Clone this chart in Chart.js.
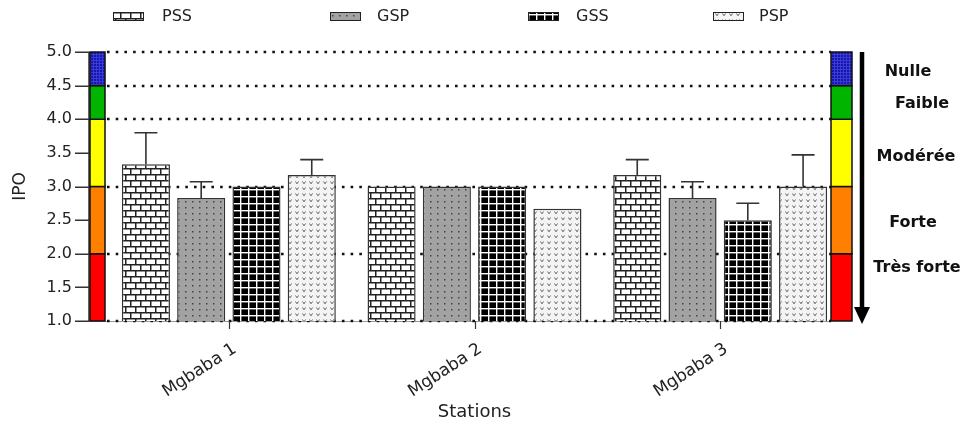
<!DOCTYPE html>
<html><head><meta charset="utf-8">
<script src="https://cdn.jsdelivr.net/npm/chart.js@4.4.0/dist/chart.umd.min.js"></script>
<style>html,body{margin:0;padding:0;background:#fff;}#wrap{width:965px;height:428px;}</style>
</head><body><div id="wrap"><canvas id="c" width="965" height="428"></canvas></div>
<script>
// ---- data ----
const categories = ['Mgbaba 1', 'Mgbaba 2', 'Mgbaba 3'];
const seriesNames = ['PSS', 'GSP', 'GSS', 'PSP'];
const pssValues = [3.33, 3.0, 3.17];
const gspValues = [2.83, 3.0, 2.83];
const gssValues = [3.0, 3.0, 2.5];
const pspValues = [3.17, 2.67, 3.0];
const pssErrors = [0.47, 0, 0.23];
const gspErrors = [0.24, 0, 0.24];
const gssErrors = [0, 0, 0.25];
const pspErrors = [0.23, 0, 0.47];
const yTickValues = [1.0, 1.5, 2.0, 2.5, 3.0, 3.5, 4.0, 4.5, 5.0];
const referenceLevels = [1.0, 2.0, 3.0, 4.0, 4.5, 5.0];
const classBounds = [1.0, 2.0, 3.0, 4.0, 4.5, 5.0];
const classNames = ['Très forte', 'Forte', 'Modérée', 'Faible', 'Nulle'];
const yAxisTitle = 'IPO';
const xAxisTitle = 'Stations';

// ---- patterns ----
const canvas = document.getElementById('c');
const mainCtx = canvas.getContext('2d');
function makePattern(w, h, draw) {
  const c = document.createElement('canvas'); c.width = w; c.height = h;
  const g = c.getContext('2d'); draw(g, w, h);
  return mainCtx.createPattern(c, 'repeat');
}
const brick = makePattern(20, 12, (g) => {
  g.fillStyle = '#fff'; g.fillRect(0, 0, 20, 12);
  g.fillStyle = '#222';
  g.fillRect(0, 0, 20, 1.5); g.fillRect(0, 6, 20, 1.5);
  g.fillRect(0, 0, 1.5, 6); g.fillRect(10, 0, 1.5, 6);
  g.fillRect(5, 6, 1.5, 6); g.fillRect(15, 6, 1.5, 6);
});
const dotted = makePattern(7, 6, (g) => {
  g.fillStyle = '#a2a2a2'; g.fillRect(0, 0, 7, 6);
  g.fillStyle = '#444'; g.fillRect(3, 3, 1.5, 1.5);
});
const grid = makePattern(8, 7, (g) => {
  g.fillStyle = '#000'; g.fillRect(0, 0, 8, 7);
  g.fillStyle = '#fff'; g.fillRect(0, 0, 1.4, 7); g.fillRect(0, 0, 8, 1.4);
});
const vees = makePattern(7, 6, (g) => {
  g.fillStyle = '#f4f4f4'; g.fillRect(0, 0, 7, 6);
  g.strokeStyle = '#666'; g.lineWidth = 1;
  g.beginPath(); g.moveTo(1.5, 1.5); g.lineTo(3, 3.8); g.lineTo(4.5, 1.5); g.stroke();
});
const blueTex = makePattern(3, 3, (g) => {
  g.fillStyle = '#1616a8'; g.fillRect(0, 0, 3, 3);
  g.fillStyle = '#3a3ad8'; g.fillRect(0, 0, 3, 1); g.fillRect(0, 0, 1, 3);
});
const classFills = ['#ff0000', '#ff8000', '#ffff00', '#00b400', blueTex];
const seriesFills = [brick, dotted, grid, vees];
const seriesValues = [pssValues, gspValues, gssValues, pspValues];
const seriesErrors = [pssErrors, gspErrors, gssErrors, pspErrors];

const FONT = 'DejaVu Sans';

// ---- custom drawing plugin ----
const decor = {
  id: 'decor',
  beforeDatasetsDraw(chart) {
    const ctx = chart.ctx, y = chart.scales.y, a = chart.chartArea;
    const axisX = a.left - 17, rightBarX = a.right - 12;
    ctx.save();
    ctx.strokeStyle = '#999'; ctx.lineWidth = 1;
    ctx.beginPath(); ctx.moveTo(axisX, y.getPixelForValue(yTickValues[0]) + 0.5); ctx.lineTo(rightBarX, y.getPixelForValue(yTickValues[0]) + 0.5); ctx.stroke();
    ctx.strokeStyle = '#111'; ctx.lineWidth = 2.6; ctx.setLineDash([2.6, 6.1]);
    referenceLevels.forEach(v => {
      const py = Math.round(y.getPixelForValue(v));
      ctx.beginPath(); ctx.moveTo(axisX + 18, py); ctx.lineTo(rightBarX, py); ctx.stroke();
    });
    ctx.restore();
  },
  afterDatasetsDraw(chart) {
    const ctx = chart.ctx, y = chart.scales.y, x = chart.scales.x, a = chart.chartArea;
    ctx.save();
    // error bars
    ctx.strokeStyle = '#333'; ctx.lineWidth = 1.6;
    chart.data.datasets.forEach((ds, i) => {
      const meta = chart.getDatasetMeta(i);
      meta.data.forEach((el, j) => {
        const e = seriesErrors[i][j];
        if (!e) return;
        const top = y.getPixelForValue(seriesValues[i][j] + e);
        ctx.beginPath();
        ctx.moveTo(el.x, el.y); ctx.lineTo(el.x, top);
        ctx.moveTo(el.x - 11.5, top); ctx.lineTo(el.x + 11.5, top);
        ctx.stroke();
      });
    });
    // y axis line and ticks
    const axisX = a.left - 17;
    ctx.strokeStyle = '#333'; ctx.lineWidth = 1.5;
    ctx.beginPath();
    ctx.moveTo(axisX, y.getPixelForValue(yTickValues[yTickValues.length - 1]));
    ctx.lineTo(axisX, y.getPixelForValue(yTickValues[0]));
    yTickValues.forEach(v => {
      const py = Math.round(y.getPixelForValue(v)) + 0.25;
      ctx.moveTo(axisX - 14, py); ctx.lineTo(axisX, py);
    });
    ctx.stroke();
    // x category ticks
    ctx.lineWidth = 1.2;
    categories.forEach((c, i) => {
      const px = Math.round(x.getPixelForValue(i)) + 0.5;
      const py = y.getPixelForValue(yTickValues[0]);
      ctx.beginPath(); ctx.moveTo(px, py); ctx.lineTo(px, py + 8); ctx.stroke();
    });
    // colour scale bars (left and right)
    const bars = [[axisX + 1, 15], [a.right - 12, 21]];
    bars.forEach(([bx, bw]) => {
      for (let k = 0; k < classNames.length; k++) {
        const y0 = y.getPixelForValue(classBounds[k + 1]);
        const y1 = y.getPixelForValue(classBounds[k]);
        ctx.fillStyle = classFills[k];
        ctx.fillRect(bx, y0, bw, y1 - y0);
        ctx.strokeStyle = '#111'; ctx.lineWidth = 1.5;
        ctx.strokeRect(bx, y0, bw, y1 - y0);
      }
    });
    // arrow
    const ax = a.right + 19;
    const yTop = y.getPixelForValue(classBounds[classBounds.length - 1]);
    const yBot = y.getPixelForValue(classBounds[0]);
    ctx.strokeStyle = '#000'; ctx.lineWidth = 4.5;
    ctx.beginPath(); ctx.moveTo(ax, yTop); ctx.lineTo(ax, yBot - 12); ctx.stroke();
    ctx.fillStyle = '#000';
    ctx.beginPath(); ctx.moveTo(ax - 8, yBot - 14); ctx.lineTo(ax + 8, yBot - 14); ctx.lineTo(ax, yBot + 3); ctx.closePath(); ctx.fill();
    // class labels
    const labelX = [917, 913, 916, 922, 908];
    const labelDy = [-20, 3, 4, 1, 3];
    ctx.font = 'bold 16px "' + FONT + '"';
    ctx.fillStyle = '#111'; ctx.textAlign = 'center'; ctx.textBaseline = 'middle';
    classNames.forEach((n, k) => {
      const cy = y.getPixelForValue((classBounds[k] + classBounds[k + 1]) / 2) + labelDy[k];
      ctx.fillText(n, labelX[k], cy);
    });
    // legend
    const legendBoxX = [113, 330, 528, 713];
    const legendTextX = [162, 377, 576, 759];
    ctx.font = '16px "' + FONT + '"';
    ctx.textAlign = 'left';
    seriesNames.forEach((n, i) => {
      ctx.fillStyle = seriesFills[i];
      ctx.fillRect(legendBoxX[i], 12, 30, 8);
      ctx.strokeStyle = '#222'; ctx.lineWidth = 1;
      ctx.strokeRect(legendBoxX[i] + 0.5, 12.5, 30, 8);
      ctx.fillStyle = '#222';
      ctx.fillText(n, legendTextX[i], 17);
    });
    ctx.restore();
  }
};

new Chart(canvas, {
  type: 'bar',
  data: {
    labels: categories,
    datasets: seriesNames.map((n, i) => ({
      label: n,
      data: seriesValues[i],
      backgroundColor: seriesFills[i],
      borderColor: '#333',
      borderWidth: 1.5,
      categoryPercentage: 0.9,
      barPercentage: 0.87
    }))
  },
  options: {
    responsive: false,
    devicePixelRatio: 1,
    animation: false,
    events: [],
    layout: { padding: { top: 52, right: 122, bottom: 4, left: 0 } },
    plugins: { legend: { display: false }, tooltip: { enabled: false } },
    scales: {
      x: {
        grid: { display: false },
        border: { display: false },
        ticks: {
          font: { family: FONT, size: 17 }, color: '#222',
          minRotation: 33, maxRotation: 33, padding: 10, labelOffset: 6
        },
        title: { display: true, text: xAxisTitle, font: { family: FONT, size: 18 }, color: '#222', padding: { top: 0, bottom: 1 } },
        afterFit: (s) => { s.height = 103; }
      },
      y: {
        min: 1, max: 5,
        grid: { display: false },
        border: { display: false },
        afterBuildTicks: (s) => { s.ticks = yTickValues.map(v => ({ value: v })); },
        ticks: {
          font: { family: FONT, size: 16 }, color: '#222', padding: 26,
          callback: (v) => Number(v).toFixed(1)
        },
        title: { display: true, text: yAxisTitle, font: { family: FONT, size: 17 }, color: '#222', padding: { top: 10, bottom: 0 } },
        afterFit: (s) => { s.width = 106; }
      }
    }
  },
  plugins: [decor]
});
</script>
</body></html>
